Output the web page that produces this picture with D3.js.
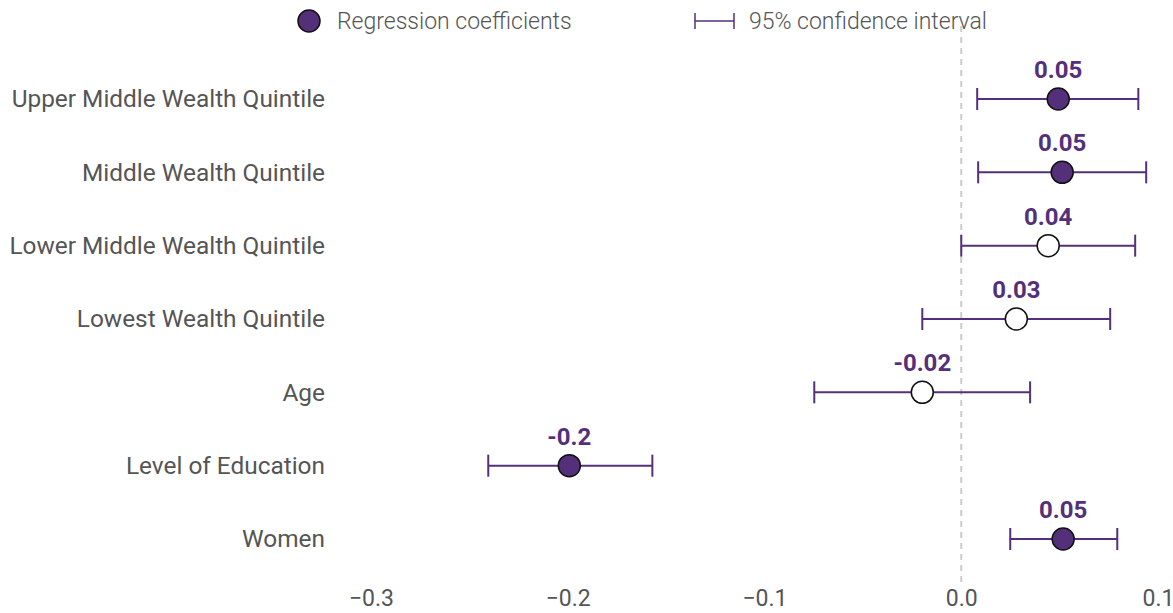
<!DOCTYPE html>
<html>
<head>
<meta charset="utf-8">
<script src="https://cdn.jsdelivr.net/npm/d3@7"></script>
<style>
  body { margin: 0; background: #fff; }
  svg { display: block; }
</style>
</head>
<body>
<svg id="chart" width="1173" height="613"></svg>
<script>
const categories = ['Upper Middle Wealth Quintile', 'Middle Wealth Quintile', 'Lower Middle Wealth Quintile',
  'Lowest Wealth Quintile', 'Age', 'Level of Education', 'Women']
const coefs = [0.0493, 0.0513, 0.0442, 0.028, -0.0198, -0.1992, 0.0518]
const lower = [0.0081, 0.0086, 0.0, -0.0198, -0.0747, -0.2404, 0.0249]
const upper = [0.090, 0.094, 0.0884, 0.0757, 0.035, -0.157, 0.0793]
const labels = ['0.05', '0.05', '0.04', '0.03', '-0.02', '-0.2', '0.05']
const significant = [true, true, false, false, false, true, true]
const ticks = [-0.3, -0.2, -0.1, 0.0, 0.1]

const purple = '#54307a'
const grey = '#555'

const rows = categories.map((c, i) => ({
  name: c, coef: coefs[i], lo: lower[i], hi: upper[i], label: labels[i], sig: significant[i]
}))

const svg = d3.select('#chart')

const x = d3.scaleLinear().domain([-0.3, 0.1]).range([371, 1158])
const y = d3.scalePoint().domain(categories).range([99, 539])

// zero reference line
svg.append('line')
  .attr('x1', x(0)).attr('x2', x(0))
  .attr('y1', 26).attr('y2', 582)
  .attr('stroke', '#ccc')
  .attr('stroke-width', 2)
  .attr('stroke-dasharray', '6,5')

// x axis labels
const xAxis = d3.axisBottom(x).tickValues(ticks).tickSize(0).tickPadding(0)
  .tickFormat(d3.format('.1f'))
const gx = svg.append('g').attr('transform', 'translate(0,590)').call(xAxis)
gx.select('.domain').remove()
gx.selectAll('text')
  .attr('dy', '0.71em')
  .attr('font-family', 'Roboto, sans-serif')
  .attr('font-size', 23)
  .attr('fill', grey)

// category labels
const yAxis = d3.axisLeft(y).tickSize(0).tickPadding(0)
const gy = svg.append('g').attr('transform', 'translate(325,0)').call(yAxis)
gy.select('.domain').remove()
gy.selectAll('text')
  .attr('font-family', 'Roboto, sans-serif')
  .attr('font-size', 24.4)
  .attr('fill', grey)

const g = svg.append('g').selectAll('.row').data(rows).join('g')
  .attr('class', 'row')
  .attr('transform', (d) => `translate(0,${y(d.name)})`)

g.append('line')
  .attr('x1', (d) => x(d.lo)).attr('x2', (d) => x(d.hi))
  .attr('stroke', purple).attr('stroke-width', 2)
g.append('line')
  .attr('x1', (d) => x(d.lo)).attr('x2', (d) => x(d.lo))
  .attr('y1', -11).attr('y2', 11)
  .attr('stroke', purple).attr('stroke-width', 2)
g.append('line')
  .attr('x1', (d) => x(d.hi)).attr('x2', (d) => x(d.hi))
  .attr('y1', -11).attr('y2', 11)
  .attr('stroke', purple).attr('stroke-width', 2)

g.append('circle')
  .attr('cx', (d) => x(d.coef))
  .attr('r', 11)
  .attr('fill', (d) => d.sig ? purple : '#fff')
  .attr('stroke', '#111')
  .attr('stroke-width', 1.5)

g.append('text')
  .attr('x', (d) => x(d.coef))
  .attr('y', -21)
  .attr('text-anchor', 'middle')
  .attr('font-family', 'Roboto, sans-serif')
  .attr('font-weight', 'bold')
  .attr('font-size', 24)
  .attr('fill', purple)
  .text((d) => d.label)

// legend
const legend = svg.append('g').attr('transform', 'translate(0,21)')
legend.append('circle')
  .attr('cx', 309).attr('r', 11)
  .attr('fill', purple).attr('stroke', '#111').attr('stroke-width', 1.5)
legend.append('text')
  .attr('x', 337).attr('dy', '0.35em')
  .attr('font-family', 'Roboto, sans-serif').attr('font-weight', 300)
  .attr('font-size', 23).attr('fill', grey)
  .text('Regression coefficients')
legend.append('line').attr('x1', 695).attr('x2', 734)
  .attr('stroke', purple).attr('stroke-width', 1.5)
legend.selectAll('.cap').data([695, 734]).join('line')
  .attr('x1', (d) => d).attr('x2', (d) => d)
  .attr('y1', -8).attr('y2', 8)
  .attr('stroke', purple).attr('stroke-width', 1.5)
legend.append('text')
  .attr('x', 749).attr('dy', '0.35em')
  .attr('font-family', 'Roboto, sans-serif').attr('font-weight', 300)
  .attr('font-size', 23).attr('fill', grey)
  .text('95% confidence interval')
</script>
</body>
</html>
